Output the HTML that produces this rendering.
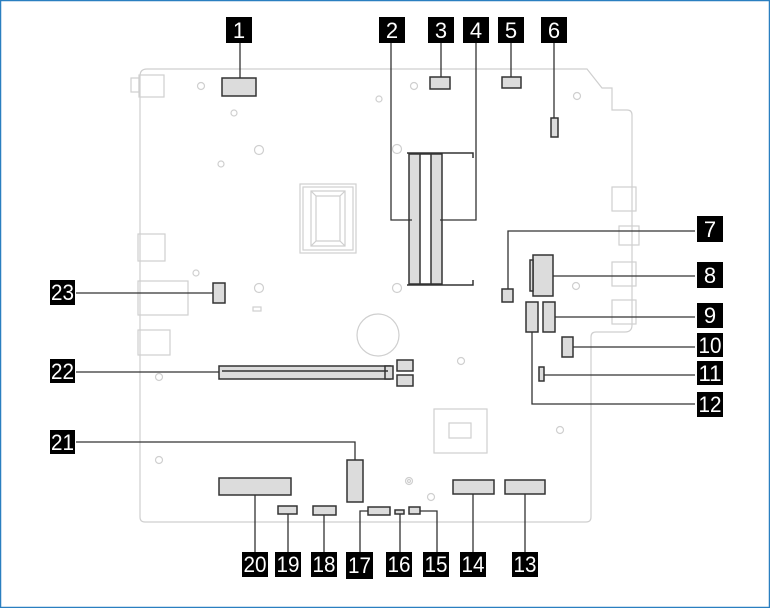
<!DOCTYPE html>
<html><head><meta charset="utf-8"><style>
html,body{margin:0;padding:0;background:#fff}
svg{display:block}
.l{font-family:"Liberation Sans",sans-serif;font-size:22px;fill:#fff;text-anchor:middle}
</style></head><body>
<svg width="770" height="608" viewBox="0 0 770 608" xmlns="http://www.w3.org/2000/svg">
<rect x="0.5" y="0.5" width="769" height="607" fill="#fff" stroke="#2a7fc0" stroke-width="1.5"/>
<!-- board outline -->
<g fill="none" stroke="#cfcfcf" stroke-width="1.2">
<path d="M140,76 Q140,69 147,69 L587,69 L602,88 L612,88 L612,110 L627,110 Q632,110 632,115 L632,325 Q632,332 625,332 L596,332 Q591,332 591,337 L591,517 Q591,522 586,522 L145,522 Q140,522 140,517 Z"/>
<rect x="131" y="78" width="8" height="14"/><rect x="139" y="75" width="25" height="22"/>
<rect x="138" y="234" width="27" height="27"/>
<rect x="138" y="281" width="50" height="34"/><rect x="138" y="330" width="32" height="25"/>
<rect x="612" y="187" width="24" height="24"/><rect x="619" y="226" width="20" height="19"/>
<rect x="612" y="262" width="24" height="24"/><rect x="612" y="300" width="24" height="24"/>
<rect x="300" y="184" width="56" height="69"/><rect x="303" y="187" width="50" height="63"/>
<path d="M311,191 L345,191 L345,246 L311,246 Z M316,196 L340,196 L340,241 L316,241 Z M311,191 L316,196 M345,191 L340,196 M311,246 L316,241 M345,246 L340,241"/>
<rect x="434" y="409" width="53" height="44"/><rect x="449" y="423" width="22" height="15"/>
<circle cx="378" cy="335" r="21"/>
<circle cx="201" cy="86" r="3.5"/><circle cx="234" cy="113" r="3"/><circle cx="259" cy="150" r="4.5"/>
<circle cx="221" cy="164" r="3"/><circle cx="379" cy="99" r="3"/><circle cx="414" cy="86" r="3.5"/>
<circle cx="397" cy="149" r="4.5"/><circle cx="397" cy="288" r="4.5"/><circle cx="259" cy="288" r="4.5"/>
<circle cx="196" cy="273" r="3"/><circle cx="577" cy="96" r="3.5"/><circle cx="576" cy="286" r="3.5"/>
<circle cx="461" cy="361" r="3.5"/><circle cx="560" cy="430" r="3.5"/><circle cx="159" cy="460" r="3.5"/>
<circle cx="159" cy="377" r="3.5"/><circle cx="409" cy="481" r="3.5"/><circle cx="409" cy="481" r="1.5"/>
<circle cx="431" cy="497" r="3.5"/><rect x="253" y="307" width="8" height="4"/>
</g>
<!-- components -->
<g fill="#dcdcdc" stroke="#333" stroke-width="1.5">
<rect x="222" y="78" width="34" height="18"/>
<rect x="430" y="77" width="20" height="12"/>
<rect x="502" y="77" width="19" height="11"/>
<rect x="551" y="118" width="7" height="19"/>
<rect x="409" y="154" width="11" height="130"/><rect x="431" y="154" width="11" height="130"/>
<rect x="502" y="289" width="11" height="13"/>
<rect x="533" y="255" width="20" height="41"/><rect x="530" y="260" width="3" height="31"/>
<rect x="526" y="302" width="12" height="30"/><rect x="543" y="302" width="12" height="30"/>
<rect x="562" y="337" width="11" height="20"/>
<rect x="539" y="367" width="5" height="14"/>
<rect x="213" y="283" width="12" height="20"/>
<rect x="219" y="366" width="171" height="13"/><rect x="385" y="366" width="8" height="13"/>
<rect x="397" y="360" width="16" height="11"/><rect x="397" y="375" width="16" height="11"/>
<rect x="347" y="460" width="16" height="42"/>
<rect x="219" y="478" width="72" height="17"/>
<rect x="278" y="506" width="19" height="8"/>
<rect x="313" y="506" width="23" height="9"/>
<rect x="368" y="507" width="22" height="8"/>
<rect x="395" y="510" width="9" height="4"/>
<rect x="409" y="507" width="11" height="7"/>
<rect x="453" y="480" width="41" height="14"/>
<rect x="505" y="480" width="40" height="14"/>
</g>
<g fill="none" stroke="#333" stroke-width="1.5">
<path d="M407,153 L473,153 L473,158 M407,285 L473,285 L473,280 M420,154 L431,154 M420,284 L431,284"/>
<path d="M222,371 L388,371"/>
</g>
<!-- leader lines -->
<g fill="none" stroke="#333" stroke-width="1.3">
<path d="M240,43 V78"/><path d="M391,43 V220 H412"/><path d="M441,43 V77"/><path d="M476,43 V220 H440"/>
<path d="M511,43 V77"/><path d="M554,43 V118"/>
<path d="M695,231 H508 V289"/><path d="M553,276 H695"/><path d="M555,317 H695"/>
<path d="M573,347 H695"/><path d="M544,375 H695"/><path d="M532,332 V404 H695"/>
<path d="M76,293 H213"/><path d="M76,372 H219"/><path d="M76,442 H355 V460"/>
<path d="M255,495 V552"/><path d="M288,514 V552"/><path d="M324,515 V552"/>
<path d="M360,552 V511 H368"/><path d="M400,514 V552"/><path d="M420,511 H437 V552"/>
<path d="M473,494 V552"/><path d="M525,494 V552"/>
</g>
<!-- labels -->
<g>
<rect x="226" y="17" width="26" height="26"/><text class="l" x="239" y="38">1</text>
<rect x="379" y="17" width="26" height="26"/><text class="l" x="392" y="38">2</text>
<rect x="428" y="17" width="26" height="26"/><text class="l" x="441" y="38">3</text>
<rect x="463" y="17" width="26" height="26"/><text class="l" x="476" y="38">4</text>
<rect x="498" y="17" width="26" height="26"/><text class="l" x="511" y="38">5</text>
<rect x="541" y="17" width="26" height="26"/><text class="l" x="554" y="38">6</text>
<rect x="697" y="216" width="26" height="26"/><text class="l" x="710" y="237">7</text>
<rect x="697" y="262" width="26" height="26"/><text class="l" x="710" y="283">8</text>
<rect x="697" y="303" width="26" height="25"/><text class="l" x="710" y="323">9</text>
<rect x="697" y="333" width="26" height="24"/><text class="l" x="710" y="353" textLength="23" lengthAdjust="spacingAndGlyphs">10</text>
<rect x="697" y="361" width="26" height="24"/><text class="l" x="710" y="381" textLength="23" lengthAdjust="spacingAndGlyphs">11</text>
<rect x="697" y="392" width="26" height="25"/><text class="l" x="710" y="412" textLength="23" lengthAdjust="spacingAndGlyphs">12</text>
<rect x="50" y="280" width="25" height="25"/><text class="l" x="62.5" y="300" textLength="23" lengthAdjust="spacingAndGlyphs">23</text>
<rect x="50" y="359" width="25" height="24"/><text class="l" x="62.5" y="379" textLength="23" lengthAdjust="spacingAndGlyphs">22</text>
<rect x="50" y="430" width="25" height="24"/><text class="l" x="62.5" y="450" textLength="23" lengthAdjust="spacingAndGlyphs">21</text>
<rect x="242" y="552" width="26" height="25"/><text class="l" x="255" y="572" textLength="23" lengthAdjust="spacingAndGlyphs">20</text>
<rect x="275" y="552" width="26" height="25"/><text class="l" x="288" y="572" textLength="23" lengthAdjust="spacingAndGlyphs">19</text>
<rect x="311" y="552" width="26" height="25"/><text class="l" x="324" y="572" textLength="23" lengthAdjust="spacingAndGlyphs">18</text>
<rect x="346" y="552" width="27" height="27"/><text class="l" x="359.5" y="573" textLength="23" lengthAdjust="spacingAndGlyphs">17</text>
<rect x="386" y="552" width="26" height="25"/><text class="l" x="399" y="572" textLength="23" lengthAdjust="spacingAndGlyphs">16</text>
<rect x="423" y="552" width="26" height="25"/><text class="l" x="436" y="572" textLength="23" lengthAdjust="spacingAndGlyphs">15</text>
<rect x="460" y="552" width="26" height="25"/><text class="l" x="473" y="572" textLength="23" lengthAdjust="spacingAndGlyphs">14</text>
<rect x="512" y="552" width="26" height="25"/><text class="l" x="525" y="572" textLength="23" lengthAdjust="spacingAndGlyphs">13</text>
</g>
</svg>
</body></html>
